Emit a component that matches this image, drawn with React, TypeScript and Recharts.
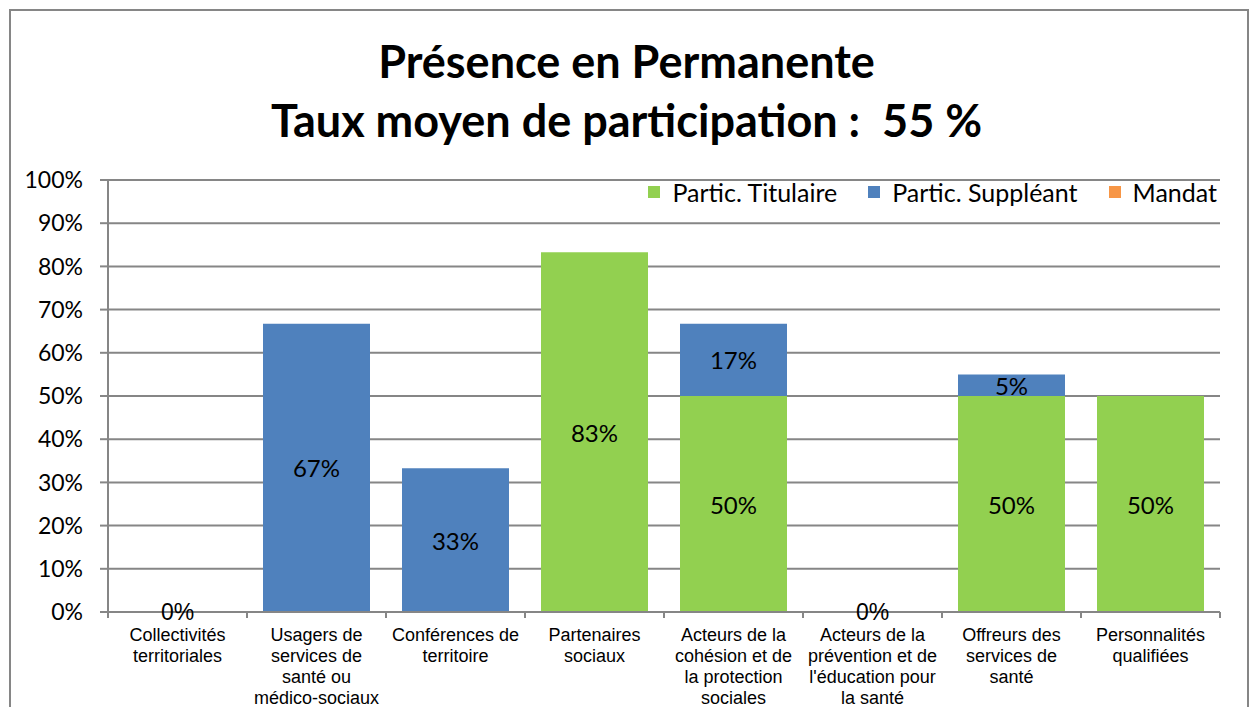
import React from 'react';
import { BarChart, Bar, XAxis, YAxis, CartesianGrid, LabelList } from 'recharts';

// Catégories (retours à la ligne comme dans le graphique Excel)
const categories = [
  'Collectivités\nterritoriales',
  'Usagers de\nservices de\nsanté ou\nmédico-sociaux',
  'Conférences de\nterritoire',
  'Partenaires\nsociaux',
  'Acteurs de la\ncohésion et de\nla protection\nsociales',
  'Acteurs de la\nprévention et de\nl\'éducation pour\nla santé',
  'Offreurs des\nservices de\nsanté',
  'Personnalités\nqualifiées',
];

// Valeurs en %, null = pas de valeur
const titulaire = [0, null, null, 83.3, 50, 0, 50, 50];
const suppleant = [null, 66.7, 33.3, null, 16.7, null, 5, null];
const mandat = [null, null, null, null, null, null, null, null];

const yTicks = [0, 10, 20, 30, 40, 50, 60, 70, 80, 90, 100];

const series = [
  { key: 'titulaire', name: 'Partic. Titulaire', color: '#92D050' },
  { key: 'suppleant', name: 'Partic. Suppléant', color: '#4F81BD' },
  { key: 'mandat', name: 'Mandat', color: '#F79646' },
];

const data = categories.map((c, i) => ({
  name: c,
  titulaire: titulaire[i],
  suppleant: suppleant[i],
  mandat: mandat[i],
}));

const W = 1253;
const H = 707;
const margin = { top: 180, right: 33, bottom: 0, left: 0 };
const Y_AXIS_W = 108;
const X_AXIS_H = 95;
const PLOT_BOTTOM = H - margin.bottom - X_AXIS_H;
const BAND = (W - margin.right - margin.left - Y_AXIS_W) / categories.length;

const calibri = 'Lato, Carlito, Calibri, sans-serif';
const arial = "'Liberation Sans', Arial, sans-serif";
const grey = '#868686';

const CategoryTick = (props: any) => {
  const { x, payload, index } = props;
  const lines = String(payload.value).split('\n');
  const last = index === categories.length - 1;
  const row = data[index];
  // catégorie à 0 : Excel affiche l'étiquette "0%" sur l'axe
  const isZero = row && row.titulaire === 0 && !row.suppleant && !row.mandat;
  return (
    <g>
      <line x1={x - BAND / 2} x2={x - BAND / 2} y1={PLOT_BOTTOM} y2={PLOT_BOTTOM + 6} stroke={grey} strokeWidth={2} />
      {last && (
        <line x1={x + BAND / 2} x2={x + BAND / 2} y1={PLOT_BOTTOM} y2={PLOT_BOTTOM + 6} stroke={grey} strokeWidth={2} />
      )}
      {isZero && (
        <text x={x} y={PLOT_BOTTOM} textAnchor="middle" dominantBaseline="central" fontFamily={arial} fontSize={23} fill="#000">
          0%
        </text>
      )}
      <text x={x} y={PLOT_BOTTOM + 29} textAnchor="middle" fontFamily={arial} fontSize={18} fill="#000">
        {lines.map((l, i) => (
          <tspan key={i} x={x} dy={i === 0 ? 0 : 21}>{l}</tspan>
        ))}
      </text>
    </g>
  );
};

const renderLabel = (props: any) => {
  const { x, y, width, height, value } = props;
  if (value === null || value === undefined || value === 0) return null;
  return (
    <text
      x={x + width / 2}
      y={y + height / 2}
      textAnchor="middle"
      dominantBaseline="central"
      fontFamily={calibri}
      fontSize={24}
      fill="#000"
    >
      {Math.round(value)}%
    </text>
  );
};

export default function App() {
  return (
    <div style={{ position: 'relative', width: W, height: H, background: '#fff', overflow: 'hidden' }}>
      <style>{`body{margin:0;overflow:hidden}`}</style>
      <div
        style={{
          position: 'absolute',
          left: 9,
          top: 9,
          width: 1240,
          height: 760,
          border: `2px solid ${grey}`,
          boxSizing: 'border-box',
        }}
      />
      <div
        style={{
          position: 'absolute',
          left: 0,
          width: W,
          top: 32,
          textAlign: 'center',
          fontFamily: calibri,
          fontWeight: 700,
          fontSize: 45,
          lineHeight: '59px',
          color: '#000',
          whiteSpace: 'pre',
        }}
      >
        <div>Présence en Permanente</div>
        <div>Taux moyen de participation :  55 %</div>
      </div>
      <div style={{ position: 'absolute', left: 0, top: 0 }}>
        <BarChart width={W} height={H} data={data} margin={margin} barSize={107}>
          <CartesianGrid vertical={false} stroke={grey} strokeWidth={2} />
          <XAxis
            dataKey="name"
            interval={0}
            height={X_AXIS_H}
            tickLine={false}
            axisLine={{ stroke: grey, strokeWidth: 2 }}
            tick={<CategoryTick />}
          />
          <YAxis
            width={Y_AXIS_W}
            domain={[0, 100]}
            ticks={yTicks}
            tickFormatter={(v: number) => `${v}%`}
            tickSize={8}
            tickMargin={17}
            axisLine={{ stroke: grey, strokeWidth: 2 }}
            tickLine={{ stroke: grey, strokeWidth: 2 }}
            tick={{ fontFamily: calibri, fontSize: 23, fill: '#000' }}
          />
          {series.map((s) => (
            <Bar key={s.key} dataKey={s.key} name={s.name} stackId="a" fill={s.color} isAnimationActive={false}>
              <LabelList dataKey={s.key} content={renderLabel} />
            </Bar>
          ))}
        </BarChart>
      </div>
      <div
        style={{
          position: 'absolute',
          right: 36,
          top: 177,
          display: 'flex',
          alignItems: 'center',
          fontFamily: calibri,
          fontSize: 25,
          lineHeight: '30px',
          color: '#000',
        }}
      >
        {series.map((s, i) => (
          <div key={s.key} style={{ display: 'flex', alignItems: 'center', marginLeft: i === 0 ? 0 : 31 }}>
            <span style={{ width: 12, height: 12, background: s.color, display: 'inline-block', marginRight: 12 }} />
            <span>{s.name}</span>
          </div>
        ))}
      </div>
    </div>
  );
}
